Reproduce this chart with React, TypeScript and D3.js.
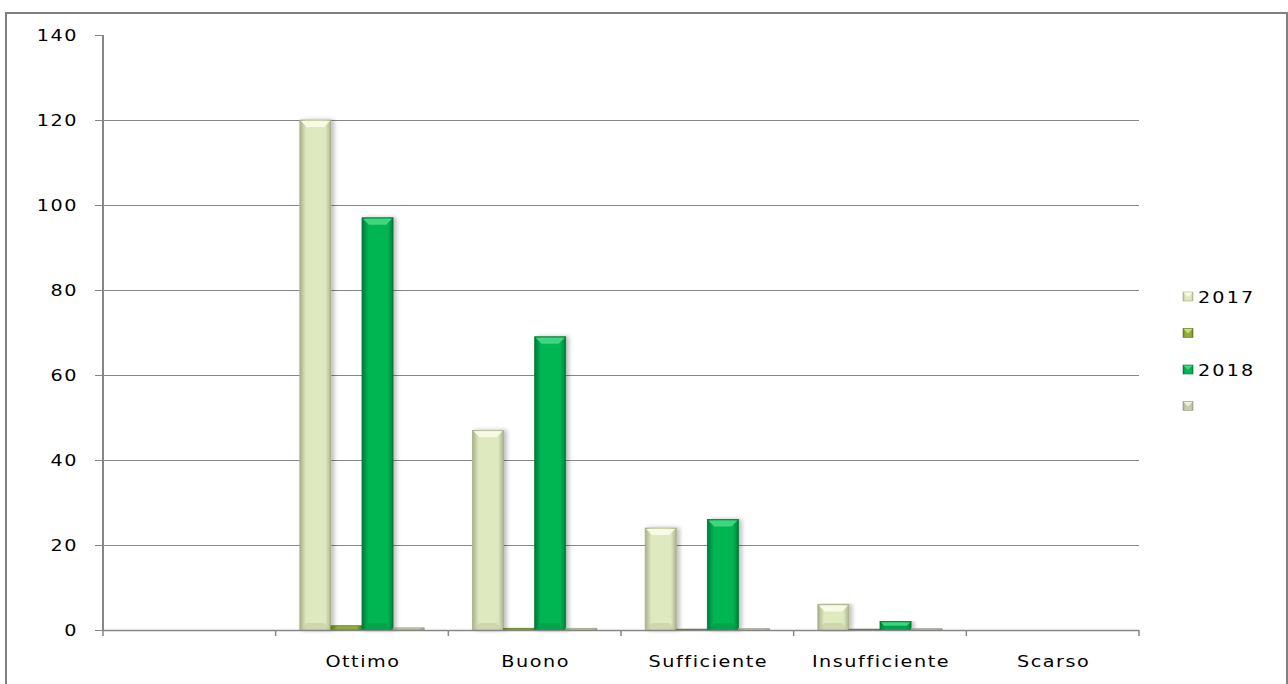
import React from "react";
import * as d3 from "d3";

const categories = ["", "Ottimo", "Buono", "Sufficiente", "Insufficiente", "Scarso"];
const seriesNames = ["2017", "", "2018", ""];
const values2017 = [0, 120, 47, 24, 6, 0];
const valuesS2 = [0, 1, 0.4, 0.2, 0.2, 0];
const values2018 = [0, 97, 69, 26, 2, 0];
const valuesS4 = [0, 0.5, 0.4, 0.3, 0.3, 0];
const yTicks = [0, 20, 40, 60, 80, 100, 120, 140];

const seriesValues = [values2017, valuesS2, values2018, valuesS4];
const fills = [
  { main: "#dfe9c0", edge: "#a8b08c", light: "#f8fbe4", dark: "#c4cca4" },
  { main: "#8fae3a", edge: "#5e7a1e", light: "#c6dc7a", dark: "#6f8d26" },
  { main: "#03b653", edge: "#027a38", light: "#40d67f", dark: "#04974a" },
  { main: "#c9cdb0", edge: "#9a9e82", light: "#eef0dc", dark: "#b0b496" },
];

function SText({ x, y, anchor, children, size = 16, ls = 1.3 }: any) {
  return (
    <text transform={`translate(${x},${y}) scale(1.2,1)`} textAnchor={anchor} dy="0.35em" fontSize={size} letterSpacing={ls} fill="#000">
      {children}
    </text>
  );
}

export default function App() {
  const W = 1288, H = 684;
  const left = 103, right = 1139, top = 35, bottom = 630;
  const x0 = d3.scaleBand<string>().domain(categories.map((c, i) => String(i))).range([left, right]).paddingInner(0).paddingOuter(0);
  const y = d3.scaleLinear().domain([0, 140]).range([bottom, top]);
  const bw = x0.bandwidth();
  const gap = bw * 0.14;
  const barW = (bw - 2 * gap) / 4;

  return (
    <svg width={W} height={H} style={{ position: "absolute", left: 0, top: 0 }} fontFamily="'DejaVu Sans', Verdana, sans-serif">
      <defs>
        {fills.map((f, i) => (
          <linearGradient key={i} id={`g${i}`} x1="0" x2="1" y1="0" y2="0">
            <stop offset="0" stopColor={f.edge} />
            <stop offset="0.1" stopColor={f.dark} />
            <stop offset="0.2" stopColor={f.main} />
            <stop offset="0.82" stopColor={f.main} />
            <stop offset="0.92" stopColor={f.dark} />
            <stop offset="1" stopColor={f.edge} />
          </linearGradient>
        ))}
        <filter id="sh" x="-20%" y="-5%" width="150%" height="110%">
          <feGaussianBlur in="SourceAlpha" stdDeviation="2" />
          <feOffset dx="3" dy="0" result="b" />
          <feComponentTransfer><feFuncA type="linear" slope="0.25" /></feComponentTransfer>
          <feMerge><feMergeNode /><feMergeNode in="SourceGraphic" /></feMerge>
        </filter>
      </defs>
      <rect x={0} y={0} width={W} height={H} fill="#fff" />
      <rect x={6} y={13} width={1281} height={700} fill="none" stroke="#808080" strokeWidth={2} />

      {yTicks.filter(t => t > 0 && t < 140).map(t => (
        <line key={t} x1={left} x2={right} y1={Math.round(y(t)) + 0.5} y2={Math.round(y(t)) + 0.5} stroke="#868686" strokeWidth={1} />
      ))}
      {yTicks.map(t => (
        <g key={"t" + t}>
          <line x1={left - 8} x2={left} y1={Math.round(y(t)) + 0.5} y2={Math.round(y(t)) + 0.5} stroke="#868686" strokeWidth={1} />
          <SText x={78} y={y(t)} anchor="end">{t}</SText>
        </g>
      ))}

      {categories.map((c, ci) => (
        <g key={"c" + ci}>
          {seriesValues.map((vals, si) => {
            const v = vals[ci];
            if (v <= 0) return null;
            const bx = (x0(String(ci)) as number) + gap + si * barW;
            const by = y(v);
            const h = bottom - by;
            const f = fills[si];
            const bev = Math.min(7, h / 2, barW / 3);
            return (
              <g key={si} filter={h > 5 ? "url(#sh)" : undefined}>
                <rect x={bx} y={by} width={barW} height={h} fill={`url(#g${si})`} stroke={f.edge} strokeWidth={0.8} />
                {h > 6 && (
                  <>
                    <path d={`M${bx + 1},${by + 1} L${bx + barW - 1},${by + 1} L${bx + barW - bev},${by + bev} L${bx + bev},${by + bev} Z`} fill={f.light} />
                    <path d={`M${bx + 1},${bottom - 1} L${bx + barW - 1},${bottom - 1} L${bx + barW - bev},${bottom - bev} L${bx + bev},${bottom - bev} Z`} fill={f.dark} opacity={0.6} />
                  </>
                )}
              </g>
            );
          })}
        </g>
      ))}

      <line x1={left} x2={left} y1={top} y2={bottom} stroke="#868686" strokeWidth={2} />
      <line x1={left} x2={right} y1={bottom + 0.5} y2={bottom + 0.5} stroke="#868686" strokeWidth={1.5} />
      {categories.map((c, i) => (
        <line key={"xt" + i} x1={(x0(String(i)) as number) + bw} x2={(x0(String(i)) as number) + bw} y1={bottom} y2={bottom + 6} stroke="#868686" strokeWidth={1.5} />
      ))}
      <line x1={left} x2={left} y1={bottom} y2={bottom + 6} stroke="#868686" strokeWidth={1.5} />
      {categories.map((c, i) => (
        <SText key={"xl" + i} x={(x0(String(i)) as number) + bw / 2 + 1} y={661} anchor="middle">{c}</SText>
      ))}

      {seriesNames.map((n, i) => {
        const ly = 297 + i * 36.5;
        const f = fills[i];
        return (
          <g key={"lg" + i}>
            <rect x={1183} y={ly - 5} width={10} height={9} fill={`url(#g${i})`} stroke={f.edge} strokeWidth={0.6} />
            <path d={`M1183.5,${ly - 4.5} L1192.5,${ly - 4.5} L1188,${ly} Z`} fill={f.light} />
            <SText x={1198} y={ly} anchor="start" ls={1.8}>{n}</SText>
          </g>
        );
      })}
    </svg>
  );
}
